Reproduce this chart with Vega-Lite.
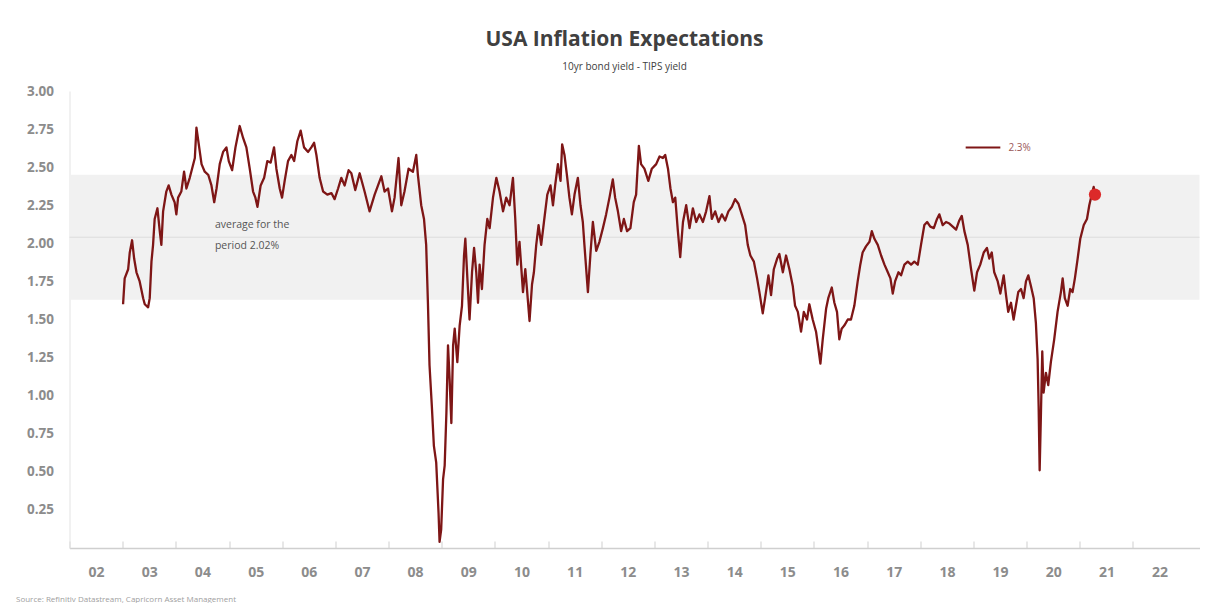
{
  "$schema": "https://vega.github.io/schema/vega-lite/v6.json",
  "width": 1130,
  "height": 457,
  "autosize": "none",
  "padding": {"left": 69.5, "top": 91, "right": 29.5, "bottom": 55},
  "background": "white",
  "config": {"view": {"stroke": null}, "font": "Open Sans"},
  "title": {
    "text": "USA Inflation Expectations",
    "subtitle": "10yr bond yield - TIPS yield",
    "anchor": "middle",
    "frame": "group",
    "dx": -10,
    "offset": 12,
    "font": "Open Sans",
    "fontSize": 21,
    "fontWeight": "bold",
    "color": "#404040",
    "subtitleFont": "Open Sans",
    "subtitleFontSize": 10,
    "subtitleColor": "#404040",
    "subtitlePadding": 12
  },
  "datasets": {
    "series": [
      {"d":"2003-01-04","v":1.60},{"d":"2003-01-15","v":1.77},{"d":"2003-02-08","v":1.83},{"d":"2003-02-19","v":1.94},{"d":"2003-03-07","v":2.02},{"d":"2003-03-21","v":1.90},{"d":"2003-04-06","v":1.81},{"d":"2003-04-28","v":1.75},{"d":"2003-05-22","v":1.64},{"d":"2003-06-02","v":1.60},{"d":"2003-06-25","v":1.58},{"d":"2003-07-06","v":1.64},{"d":"2003-07-18","v":1.88},{"d":"2003-07-29","v":1.99},{"d":"2003-08-09","v":2.16},{"d":"2003-08-28","v":2.23},{"d":"2003-09-13","v":2.08},{"d":"2003-09-24","v":1.99},{"d":"2003-10-06","v":2.21},{"d":"2003-10-28","v":2.34},{"d":"2003-11-13","v":2.38},{"d":"2003-12-02","v":2.32},{"d":"2003-12-24","v":2.27},
      {"d":"2004-01-05","v":2.19},{"d":"2004-01-17","v":2.30},{"d":"2004-02-08","v":2.34},{"d":"2004-02-27","v":2.47},{"d":"2004-03-14","v":2.36},{"d":"2004-04-06","v":2.43},{"d":"2004-04-22","v":2.49},{"d":"2004-05-11","v":2.56},{"d":"2004-05-22","v":2.76},{"d":"2004-06-07","v":2.65},{"d":"2004-06-26","v":2.52},{"d":"2004-07-18","v":2.47},{"d":"2004-08-11","v":2.45},{"d":"2004-09-02","v":2.38},{"d":"2004-09-21","v":2.27},{"d":"2004-10-07","v":2.36},{"d":"2004-10-29","v":2.52},{"d":"2004-11-21","v":2.60},{"d":"2004-12-14","v":2.63},{"d":"2004-12-30","v":2.54},
      {"d":"2005-01-22","v":2.48},{"d":"2005-02-14","v":2.63},{"d":"2005-03-15","v":2.77},{"d":"2005-04-08","v":2.69},{"d":"2005-04-30","v":2.63},{"d":"2005-05-23","v":2.49},{"d":"2005-06-15","v":2.34},{"d":"2005-07-01","v":2.30},{"d":"2005-07-15","v":2.24},{"d":"2005-08-06","v":2.38},{"d":"2005-08-30","v":2.43},{"d":"2005-09-21","v":2.54},{"d":"2005-10-14","v":2.53},{"d":"2005-11-06","v":2.63},{"d":"2005-11-22","v":2.49},{"d":"2005-12-15","v":2.36},{"d":"2005-12-31","v":2.30},
      {"d":"2006-01-18","v":2.41},{"d":"2006-02-10","v":2.54},{"d":"2006-03-05","v":2.58},{"d":"2006-03-24","v":2.54},{"d":"2006-04-15","v":2.67},{"d":"2006-05-08","v":2.74},{"d":"2006-05-31","v":2.63},{"d":"2006-06-28","v":2.60},{"d":"2006-07-20","v":2.63},{"d":"2006-08-08","v":2.66},{"d":"2006-08-24","v":2.58},{"d":"2006-09-15","v":2.43},{"d":"2006-10-09","v":2.34},{"d":"2006-11-07","v":2.32},{"d":"2006-12-05","v":2.33},{"d":"2006-12-27","v":2.29},
      {"d":"2007-01-20","v":2.36},{"d":"2007-02-11","v":2.43},{"d":"2007-03-06","v":2.38},{"d":"2007-04-02","v":2.48},{"d":"2007-04-21","v":2.46},{"d":"2007-05-18","v":2.35},{"d":"2007-06-17","v":2.46},{"d":"2007-07-21","v":2.34},{"d":"2007-08-24","v":2.21},{"d":"2007-09-28","v":2.32},{"d":"2007-11-13","v":2.44},{"d":"2007-12-05","v":2.34},{"d":"2007-12-29","v":2.36},
      {"d":"2008-01-25","v":2.21},{"d":"2008-02-12","v":2.30},{"d":"2008-03-10","v":2.56},{"d":"2008-03-29","v":2.25},{"d":"2008-04-20","v":2.34},{"d":"2008-05-18","v":2.49},{"d":"2008-06-17","v":2.47},{"d":"2008-07-10","v":2.58},{"d":"2008-07-21","v":2.45},{"d":"2008-08-13","v":2.25},{"d":"2008-09-01","v":2.16},{"d":"2008-09-16","v":1.99},{"d":"2008-09-28","v":1.61},{"d":"2008-10-09","v":1.20},{"d":"2008-10-25","v":0.93},{"d":"2008-11-08","v":0.67},{"d":"2008-11-24","v":0.56},{"d":"2008-12-10","v":0.23},{"d":"2008-12-17","v":0.04},{"d":"2008-12-28","v":0.12},
      {"d":"2009-01-10","v":0.45},{"d":"2009-01-21","v":0.54},{"d":"2009-02-02","v":0.89},{"d":"2009-02-13","v":1.33},{"d":"2009-02-24","v":1.11},{"d":"2009-03-08","v":0.82},{"d":"2009-03-20","v":1.33},{"d":"2009-03-31","v":1.44},{"d":"2009-04-18","v":1.22},{"d":"2009-05-04","v":1.46},{"d":"2009-05-20","v":1.59},{"d":"2009-06-03","v":1.92},{"d":"2009-06-12","v":2.03},{"d":"2009-06-26","v":1.77},{"d":"2009-07-11","v":1.50},{"d":"2009-07-28","v":1.81},{"d":"2009-08-11","v":1.97},{"d":"2009-08-26","v":1.81},{"d":"2009-09-07","v":1.61},{"d":"2009-09-18","v":1.86},{"d":"2009-10-04","v":1.70},{"d":"2009-10-22","v":1.99},{"d":"2009-11-10","v":2.16},{"d":"2009-11-26","v":2.10},{"d":"2009-12-19","v":2.30},
      {"d":"2010-01-11","v":2.43},{"d":"2010-02-02","v":2.34},{"d":"2010-02-26","v":2.21},{"d":"2010-03-20","v":2.30},{"d":"2010-04-12","v":2.25},{"d":"2010-05-05","v":2.43},{"d":"2010-05-21","v":2.16},{"d":"2010-06-04","v":1.86},{"d":"2010-06-19","v":2.01},{"d":"2010-07-13","v":1.68},{"d":"2010-07-29","v":1.83},{"d":"2010-08-11","v":1.68},{"d":"2010-08-27","v":1.49},{"d":"2010-09-13","v":1.73},{"d":"2010-09-26","v":1.81},{"d":"2010-10-12","v":1.99},{"d":"2010-10-28","v":2.12},{"d":"2010-11-15","v":1.99},{"d":"2010-12-04","v":2.14},{"d":"2010-12-27","v":2.32},
      {"d":"2011-01-18","v":2.38},{"d":"2011-02-04","v":2.25},{"d":"2011-02-19","v":2.38},{"d":"2011-03-10","v":2.52},{"d":"2011-03-28","v":2.41},{"d":"2011-04-08","v":2.65},{"d":"2011-04-24","v":2.58},{"d":"2011-05-13","v":2.43},{"d":"2011-05-28","v":2.30},{"d":"2011-06-14","v":2.19},{"d":"2011-07-02","v":2.32},{"d":"2011-07-25","v":2.43},{"d":"2011-08-12","v":2.25},{"d":"2011-08-28","v":2.14},{"d":"2011-09-08","v":1.99},{"d":"2011-10-02","v":1.68},{"d":"2011-10-20","v":1.94},{"d":"2011-11-05","v":2.14},{"d":"2011-11-28","v":1.95},{"d":"2011-12-20","v":2.01},
      {"d":"2012-01-13","v":2.10},{"d":"2012-02-04","v":2.19},{"d":"2012-02-27","v":2.30},{"d":"2012-03-21","v":2.42},{"d":"2012-04-06","v":2.30},{"d":"2012-04-25","v":2.21},{"d":"2012-05-17","v":2.08},{"d":"2012-06-05","v":2.16},{"d":"2012-06-27","v":2.08},{"d":"2012-07-20","v":2.10},{"d":"2012-08-12","v":2.27},{"d":"2012-08-28","v":2.32},{"d":"2012-09-16","v":2.64},{"d":"2012-10-01","v":2.52},{"d":"2012-10-24","v":2.49},{"d":"2012-11-20","v":2.41},{"d":"2012-12-14","v":2.49},
      {"d":"2013-01-13","v":2.52},{"d":"2013-02-05","v":2.57},{"d":"2013-02-28","v":2.56},{"d":"2013-03-16","v":2.58},{"d":"2013-04-04","v":2.49},{"d":"2013-04-21","v":2.36},{"d":"2013-05-08","v":2.27},{"d":"2013-05-24","v":2.30},{"d":"2013-06-11","v":2.08},{"d":"2013-06-27","v":1.91},{"d":"2013-07-16","v":2.14},{"d":"2013-08-07","v":2.25},{"d":"2013-08-30","v":2.10},{"d":"2013-09-22","v":2.23},{"d":"2013-10-15","v":2.14},{"d":"2013-11-06","v":2.19},{"d":"2013-11-30","v":2.14},{"d":"2013-12-22","v":2.21},
      {"d":"2014-01-14","v":2.31},{"d":"2014-01-30","v":2.16},{"d":"2014-02-22","v":2.21},{"d":"2014-03-17","v":2.14},{"d":"2014-04-09","v":2.19},{"d":"2014-05-02","v":2.15},{"d":"2014-05-24","v":2.21},{"d":"2014-06-17","v":2.24},{"d":"2014-07-09","v":2.29},{"d":"2014-08-01","v":2.26},{"d":"2014-08-24","v":2.19},{"d":"2014-09-16","v":2.12},{"d":"2014-10-04","v":1.99},{"d":"2014-10-22","v":1.92},{"d":"2014-11-15","v":1.88},{"d":"2014-12-07","v":1.77},{"d":"2014-12-23","v":1.68},
      {"d":"2015-01-15","v":1.54},{"d":"2015-01-31","v":1.64},{"d":"2015-02-23","v":1.79},{"d":"2015-03-13","v":1.66},{"d":"2015-04-01","v":1.83},{"d":"2015-04-24","v":1.90},{"d":"2015-05-09","v":1.93},{"d":"2015-06-02","v":1.81},{"d":"2015-06-24","v":1.92},{"d":"2015-07-17","v":1.83},{"d":"2015-08-09","v":1.72},{"d":"2015-08-25","v":1.59},{"d":"2015-09-13","v":1.55},{"d":"2015-10-05","v":1.42},{"d":"2015-10-24","v":1.55},{"d":"2015-11-15","v":1.50},{"d":"2015-12-01","v":1.60},{"d":"2015-12-24","v":1.50},
      {"d":"2016-01-16","v":1.42},{"d":"2016-02-01","v":1.31},{"d":"2016-02-15","v":1.21},{"d":"2016-03-02","v":1.37},{"d":"2016-03-25","v":1.57},{"d":"2016-04-09","v":1.64},{"d":"2016-05-03","v":1.71},{"d":"2016-05-21","v":1.61},{"d":"2016-06-08","v":1.55},{"d":"2016-06-24","v":1.37},{"d":"2016-07-10","v":1.44},{"d":"2016-07-28","v":1.46},{"d":"2016-08-21","v":1.50},{"d":"2016-09-12","v":1.50},{"d":"2016-10-05","v":1.59},{"d":"2016-10-28","v":1.75},{"d":"2016-11-15","v":1.86},{"d":"2016-12-01","v":1.94},{"d":"2016-12-24","v":1.98},
      {"d":"2017-01-17","v":2.01},{"d":"2017-02-02","v":2.08},{"d":"2017-02-20","v":2.03},{"d":"2017-03-15","v":1.99},{"d":"2017-04-07","v":1.92},{"d":"2017-04-30","v":1.86},{"d":"2017-05-23","v":1.81},{"d":"2017-06-10","v":1.77},{"d":"2017-06-26","v":1.67},{"d":"2017-07-12","v":1.75},{"d":"2017-08-04","v":1.81},{"d":"2017-08-22","v":1.79},{"d":"2017-09-14","v":1.86},{"d":"2017-10-07","v":1.88},{"d":"2017-10-30","v":1.86},{"d":"2017-11-21","v":1.88},{"d":"2017-12-15","v":1.86},
      {"d":"2018-01-06","v":1.99},{"d":"2018-01-29","v":2.12},{"d":"2018-02-17","v":2.14},{"d":"2018-03-11","v":2.11},{"d":"2018-04-04","v":2.10},{"d":"2018-04-26","v":2.16},{"d":"2018-05-12","v":2.19},{"d":"2018-06-04","v":2.12},{"d":"2018-06-27","v":2.14},{"d":"2018-07-20","v":2.13},{"d":"2018-08-12","v":2.11},{"d":"2018-09-04","v":2.09},{"d":"2018-09-26","v":2.15},{"d":"2018-10-13","v":2.18},{"d":"2018-10-31","v":2.08},{"d":"2018-11-23","v":1.99},{"d":"2018-12-16","v":1.83},
      {"d":"2019-01-07","v":1.69},{"d":"2019-01-26","v":1.81},{"d":"2019-02-17","v":1.86},{"d":"2019-03-13","v":1.94},{"d":"2019-04-04","v":1.97},{"d":"2019-04-20","v":1.90},{"d":"2019-05-07","v":1.94},{"d":"2019-05-24","v":1.81},{"d":"2019-06-17","v":1.75},{"d":"2019-07-05","v":1.67},{"d":"2019-07-28","v":1.79},{"d":"2019-08-13","v":1.66},{"d":"2019-08-28","v":1.55},{"d":"2019-09-16","v":1.61},{"d":"2019-10-04","v":1.50},{"d":"2019-10-20","v":1.59},{"d":"2019-11-05","v":1.68},{"d":"2019-11-24","v":1.70},{"d":"2019-12-12","v":1.64},{"d":"2019-12-28","v":1.75},
      {"d":"2020-01-13","v":1.79},{"d":"2020-01-31","v":1.72},{"d":"2020-02-19","v":1.64},{"d":"2020-03-05","v":1.48},{"d":"2020-03-17","v":1.24},{"d":"2020-03-24","v":0.93},{"d":"2020-03-31","v":0.51},{"d":"2020-04-09","v":0.89},{"d":"2020-04-18","v":1.29},{"d":"2020-04-27","v":1.02},{"d":"2020-05-13","v":1.15},{"d":"2020-05-29","v":1.07},{"d":"2020-06-16","v":1.22},{"d":"2020-07-09","v":1.37},{"d":"2020-08-01","v":1.55},{"d":"2020-08-24","v":1.68},{"d":"2020-09-05","v":1.77},{"d":"2020-09-20","v":1.64},{"d":"2020-10-09","v":1.59},{"d":"2020-10-27","v":1.70},{"d":"2020-11-12","v":1.68},{"d":"2020-11-28","v":1.77},{"d":"2020-12-17","v":1.90},
      {"d":"2021-01-04","v":2.03},{"d":"2021-01-28","v":2.12},{"d":"2021-02-19","v":2.16},{"d":"2021-03-07","v":2.25},{"d":"2021-03-24","v":2.32},{"d":"2021-04-06","v":2.37},{"d":"2021-04-15","v":2.32}
    ]
  },
  "layer": [
    {
      "data": {"values": [{"lo": 1.63, "hi": 2.45}]},
      "mark": {"type": "rect", "color": "#F1F1F1"},
      "encoding": {
        "y": {
          "field": "hi", "type": "quantitative",
          "scale": {"domain": [0, 3], "nice": false, "zero": false},
          "axis": {
            "values": [0.25, 0.5, 0.75, 1, 1.25, 1.5, 1.75, 2, 2.25, 2.5, 2.75, 3],
            "format": ".2f",
            "title": null,
            "grid": false,
            "ticks": false,
            "domainColor": "#E3E3E3",
            "labelFont": "Open Sans",
            "labelFontSize": 13.5,
            "labelFontWeight": "bold",
            "labelColor": "#8C8C8C",
            "labelPadding": 16
          }
        },
        "y2": {"field": "lo"}
      }
    },
    {
      "data": {"values": [{"avg": 2.04}]},
      "mark": {"type": "rule", "color": "#DCDCDC", "strokeWidth": 1},
      "encoding": {
        "y": {"field": "avg", "type": "quantitative", "scale": {"domain": [0, 3], "nice": false, "zero": false}}
      }
    },
    {
      "data": {"name": "series"},
      "mark": {"type": "line", "strokeWidth": 2.3, "strokeJoin": "round"},
      "encoding": {
        "x": {
          "field": "d", "type": "temporal",
          "scale": {"type": "utc", "domain": [{"year": 2002, "month": 1, "date": 1, "utc": true}, {"year": 2023, "month": 4, "date": 3, "utc": true}]},
          "axis": {
            "values": [
              {"year": 2002, "month": 1, "date": 1, "utc": true},{"year": 2003, "month": 1, "date": 1, "utc": true},{"year": 2004, "month": 1, "date": 1, "utc": true},{"year": 2005, "month": 1, "date": 1, "utc": true},{"year": 2006, "month": 1, "date": 1, "utc": true},{"year": 2007, "month": 1, "date": 1, "utc": true},{"year": 2008, "month": 1, "date": 1, "utc": true},{"year": 2009, "month": 1, "date": 1, "utc": true},{"year": 2010, "month": 1, "date": 1, "utc": true},{"year": 2011, "month": 1, "date": 1, "utc": true},{"year": 2012, "month": 1, "date": 1, "utc": true},{"year": 2013, "month": 1, "date": 1, "utc": true},{"year": 2014, "month": 1, "date": 1, "utc": true},{"year": 2015, "month": 1, "date": 1, "utc": true},{"year": 2016, "month": 1, "date": 1, "utc": true},{"year": 2017, "month": 1, "date": 1, "utc": true},{"year": 2018, "month": 1, "date": 1, "utc": true},{"year": 2019, "month": 1, "date": 1, "utc": true},{"year": 2020, "month": 1, "date": 1, "utc": true},{"year": 2021, "month": 1, "date": 1, "utc": true},{"year": 2022, "month": 1, "date": 1, "utc": true}
            ],
            "format": "%y",
            "labelOffset": 26.6,
            "labelFlush": false,
            "labelOverlap": false,
            "labelFont": "Open Sans",
            "labelFontSize": 14,
            "labelFontWeight": "bold",
            "labelColor": "#8C8C8C",
            "labelPadding": 24,
            "tickSize": -7,
            "tickColor": "#CFCFCF",
            "domainColor": "#CFCFCF",
            "domainWidth": 1.5,
            "grid": false,
            "title": "Source: Refinitiv Datastream, Capricorn Asset Management",
            "titleAnchor": "start",
            "titleAlign": "left",
            "titleX": -54,
            "titleY": 51,
            "titleBaseline": "middle",
            "titleFont": "Open Sans",
            "titleFontSize": 8,
            "titleFontWeight": "normal",
            "titleColor": "#A0A0A0"
          }
        },
        "y": {"field": "v", "type": "quantitative", "scale": {"domain": [0, 3], "nice": false, "zero": false}},
        "color": {
          "datum": "2.3%",
          "scale": {"range": ["#7E1616"]},
          "legend": {
            "orient": "none",
            "legendX": 895,
            "legendY": 38,
            "padding": 0,
            "title": null,
            "symbolType": "stroke",
            "symbolSize": 1200,
            "symbolStrokeWidth": 2,
            "labelFont": "Open Sans",
            "labelFontSize": 10,
            "labelColor": "#9A5858",
            "labelOffset": 7
          }
        }
      }
    },
    {
      "data": {"values": [{"d": "2021-04-15", "v": 2.32}]},
      "mark": {"type": "point", "filled": true, "size": 150, "color": "#DC2A2A", "opacity": 1},
      "encoding": {
        "x": {"field": "d", "type": "temporal"},
        "y": {"field": "v", "type": "quantitative", "scale": {"domain": [0, 3], "nice": false, "zero": false}}
      }
    },
    {
      "data": {"values": [
        {"d": "2004-09-26", "v": 2.12, "t": "average for the"},
        {"d": "2004-09-26", "v": 1.98, "t": "period 2.02%"}
      ]},
      "mark": {"type": "text", "align": "left", "baseline": "middle", "font": "Open Sans", "fontSize": 10.5, "color": "#555555"},
      "encoding": {
        "x": {"field": "d", "type": "temporal"},
        "y": {"field": "v", "type": "quantitative", "scale": {"domain": [0, 3], "nice": false, "zero": false}},
        "text": {"field": "t"}
      }
    }
  ]
}
